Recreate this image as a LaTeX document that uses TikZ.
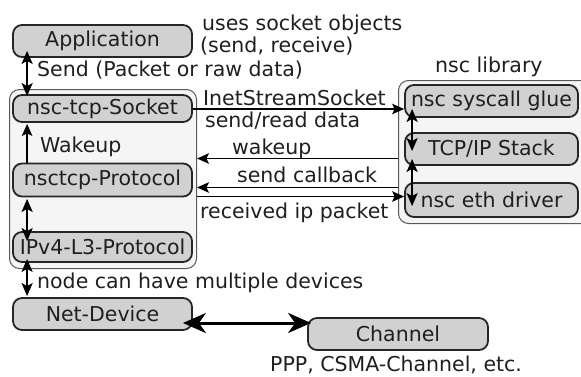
\documentclass[tikz,border=0pt]{standalone}
\usepackage{fontspec}
\setmainfont{DejaVu Sans}
\usetikzlibrary{arrows.meta}
\begin{document}
\begin{tikzpicture}[x=1pt,y=-1pt,
  txt/.style={font=\fontsize{20.5}{24}\selectfont, text=black!88},
  box/.style={txt, draw=black!85, line width=1.8pt, fill=black!18, rounded corners=9pt, inner sep=0pt},
  cont/.style={draw=black!65, line width=1pt, fill=black!4, rounded corners=10pt, inner sep=0pt},
  lbl/.style={txt, anchor=base west, inner sep=0pt},
  arr/.style={line width=1.6pt, -{Stealth[length=12pt,width=10.5pt,inset=2.5pt]}},
  darr/.style={line width=2pt, {Stealth[length=13pt,width=11pt,inset=3pt]}-{Stealth[length=13pt,width=11pt,inset=3pt]}},
  bigarr/.style={line width=3pt, {Stealth[length=23pt,width=20pt,inset=7pt]}-{Stealth[length=23pt,width=20pt,inset=7pt]}}
]
\useasboundingbox (0,0) rectangle (581,376);
% containers
\node[cont, minimum width=187pt, minimum height=179pt, anchor=north west] (left) at (9,89) {};
\node[cont, minimum width=192pt, minimum height=143pt, anchor=north west] (right) at (398,80) {};
% boxes
\node[box, minimum width=179pt, minimum height=32pt] (app) at (102.5,41) {Application};
\node[box, minimum width=179pt, minimum height=27pt] (sock) at (102.5,108.5) {nsc-tcp-Socket};
\node[box, minimum width=179pt, minimum height=33pt] (proto) at (102.5,180) {nsctcp-Protocol};
\node[box, minimum width=179pt, minimum height=30pt] (ipv4) at (102.5,247) {IPv4-L3-Protocol};
\node[box, minimum width=179pt, minimum height=32pt] (netdev) at (102.5,314) {Net-Device};
\node[box, minimum width=180pt, minimum height=32pt] (channel) at (398,334) {Channel};
\node[box, minimum width=173pt, minimum height=32pt] (glue) at (491.5,101) {nsc syscall glue};
\node[box, minimum width=173pt, minimum height=32pt] (tcp) at (491.5,149) {TCP/IP Stack};
\node[box, minimum width=173pt, minimum height=34pt] (eth) at (491.5,200) {nsc eth driver};
% labels
\node[lbl] (l1) at (202,30) {uses socket objects};
\node[lbl] (l2) at (200,52) {(send, receive)};
\node[lbl] (l3) at (37,76) {Send (Packet or raw data)};
\node[lbl] (l4) at (203,105) {InetStreamSocket};
\node[lbl] (l5) at (205,127) {send/read data};
\node[lbl] (l6) at (232,154) {wakeup};
\node[lbl] (l7) at (237,182) {send callback};
\node[lbl] (l8) at (200,218) {received ip packet};
\node[lbl] (l9) at (435,72) {nsc library};
\node[lbl] (l10) at (40,152) {Wakeup};
\node[lbl] (l11) at (37,288) {node can have multiple devices};
\node[lbl] (l12) at (270,371) {PPP, CSMA-Channel, etc.};
% left vertical arrows
\draw[darr] ([xshift=15pt,yshift=7pt]app.south west) -- ([xshift=15pt,yshift=-2pt]sock.north west);
\draw[arr] ([xshift=15pt]proto.north west) -- ([xshift=15pt,yshift=-1pt]sock.south west);
\draw[darr] ([xshift=15pt,yshift=-1.5pt]proto.south west) -- ([xshift=15pt,yshift=-10pt]ipv4.north west);
\draw[darr] ([xshift=15pt,yshift=4pt]ipv4.south west) -- ([xshift=15pt,yshift=1pt]netdev.north west);
% right vertical arrows
\draw[darr] ([xshift=8pt,yshift=9pt]glue.south west) -- ([xshift=8pt,yshift=-19pt]tcp.north west);
\draw[darr] ([xshift=8pt,yshift=7pt]tcp.south west) -- ([xshift=8pt,yshift=-24pt]eth.north west);
% horizontal arrows
\coordinate (wk) at ([yshift=20.5pt]left.east);
\coordinate (cb) at ([yshift=-8.5pt]left.east);
\coordinate (rp) at ([yshift=-17.5pt]left.east);
\draw[arr] ([yshift=-0.5pt]sock.east) -- ([yshift=-0.5pt]sock.east -| glue.west);
\draw[arr] (wk -| right.west) -- (wk);
\draw[arr] (cb -| right.west) -- (cb);
\draw[arr] (rp) -- (rp -| eth.west);
% channel arrow
\coordinate (ca) at ([xshift=-10pt,yshift=-9pt]netdev.east);
\draw[bigarr] (ca) -- ([xshift=4pt]ca -| channel.west);
\end{tikzpicture}
\end{document}
